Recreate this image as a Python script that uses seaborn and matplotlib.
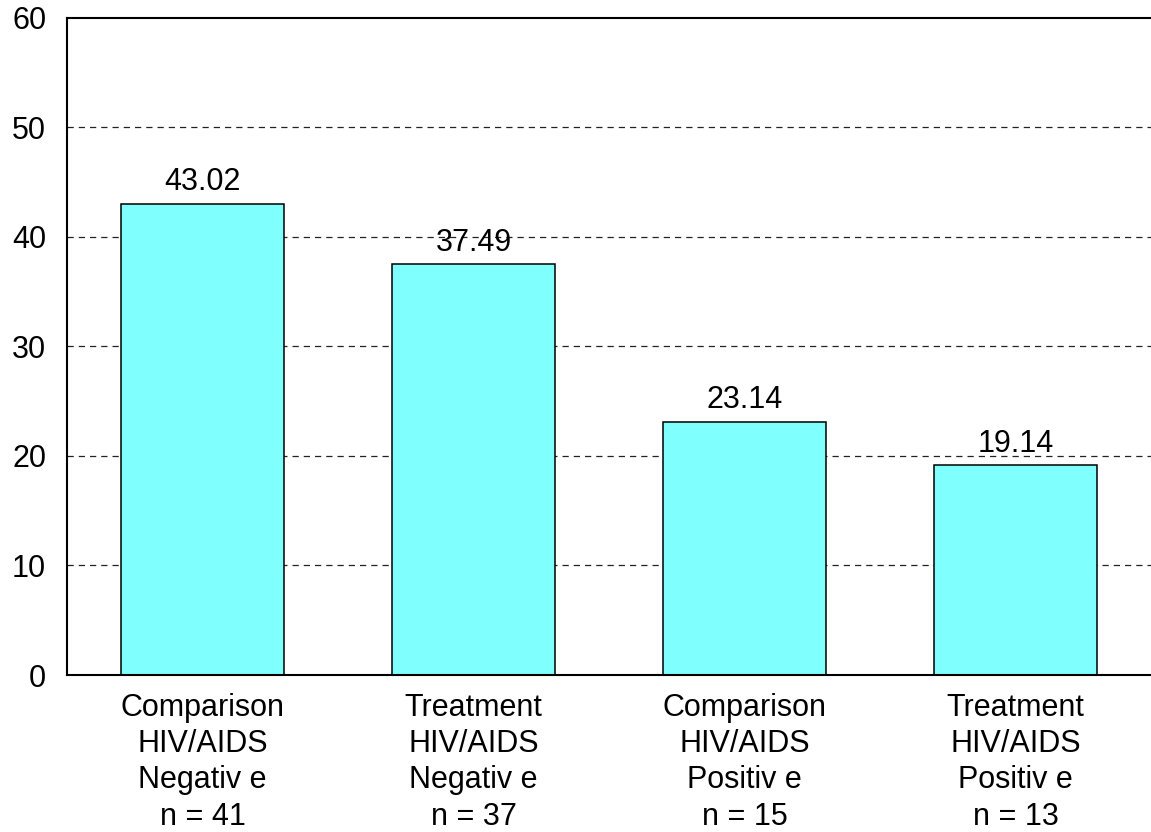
import numpy as np
import pandas as pd
import matplotlib
matplotlib.use("Agg")
import matplotlib.pyplot as plt
import seaborn as sns

# chart values
groups = ["Comparison\nHIV/AIDS\nNegativ e\nn = 41",
          "Treatment\nHIV/AIDS\nNegativ e\nn = 37",
          "Comparison\nHIV/AIDS\nPositiv e\nn = 15",
          "Treatment\nHIV/AIDS\nPositiv e\nn = 13"]
scores = [43.02, 37.49, 23.14, 19.14]
y_ticks = [0, 10, 20, 30, 40, 50, 60]

df = pd.DataFrame({"group": groups, "score": scores})

sns.set_style("white")
plt.rcParams['font.family'] = ['Liberation Sans', 'DejaVu Sans']
plt.rcParams['text.color'] = 'black'
plt.rcParams['xtick.color'] = 'black'
plt.rcParams['ytick.color'] = 'black'

fig = plt.figure(figsize=(11.51, 8.32), dpi=100)
ax = fig.add_axes([0.0582, 0.1887, 0.9418, 0.7897])

sns.barplot(data=df, x="group", y="score", color="#80FFFF", saturation=1,
            width=0.6, edgecolor="black", linewidth=1.1, ax=ax, zorder=2)

# dashed grid
for t in y_ticks[1:-1]:
    ax.axhline(t, color="#222222", linestyle=(0, (5, 4)), linewidth=0.9, zorder=1)

# value labels
for i, v in enumerate(scores):
    ax.text(i, v + 0.6, f"{v:.2f}", ha="center", va="bottom", fontsize=22,
            color="black", zorder=3)

ax.set_ylim(0, 60)
ax.set_xlim(-0.5, 3.5)
ax.set_yticks(y_ticks)
ax.set_xlabel("")
ax.set_ylabel("")
ax.tick_params(axis="both", length=0, labelsize=22, labelcolor="black")
ax.tick_params(axis="y", pad=15)
ax.tick_params(axis="x", pad=13)
for lbl in ax.get_xticklabels():
    lbl.set_linespacing(1.27)

for side in ["left", "top", "bottom"]:
    ax.spines[side].set_visible(True)
    ax.spines[side].set_color("black")
    ax.spines[side].set_linewidth(1.5)
ax.spines["right"].set_visible(False)

fig.savefig("out.png", dpi=100)
